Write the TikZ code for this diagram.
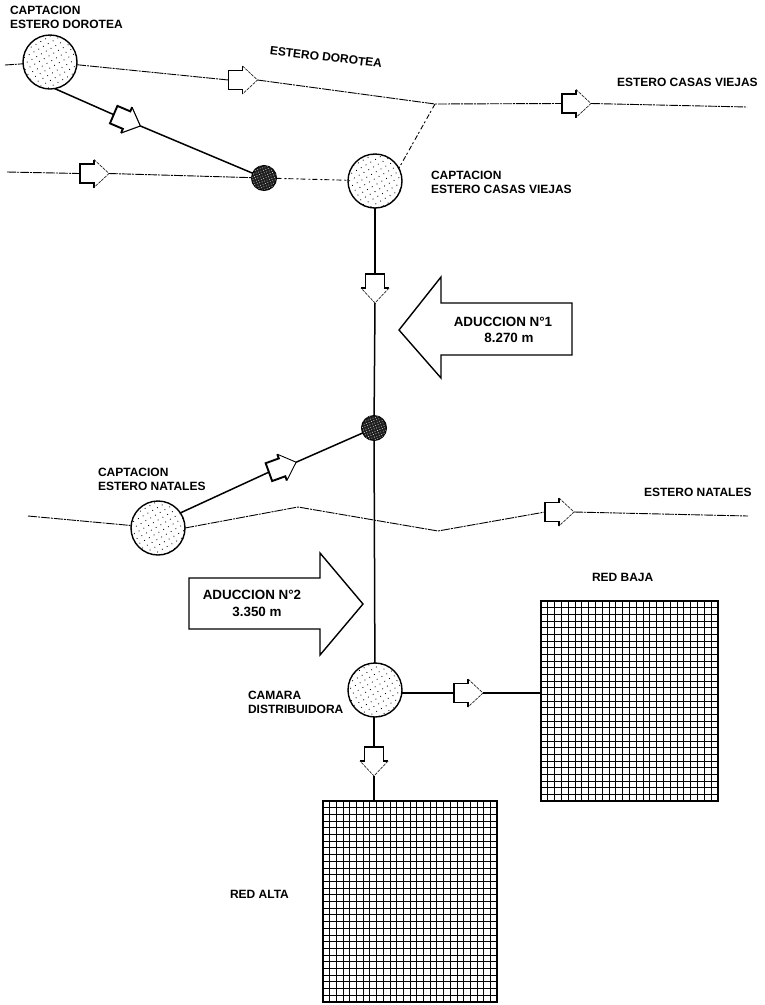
\documentclass[tikz,border=0pt]{standalone}
\usepackage{fontspec}
\setmainfont{Liberation Sans}
\usetikzlibrary{patterns.meta}
\tikzset{
  x=1pt,y=-1pt,
  capt/.style={circle,draw,line width=1.4pt,minimum size=54pt,inner sep=0pt,outer sep=0pt,fill=white,
    postaction={pattern={Dots[distance=5.5pt,radius=0.6pt,angle=30]},pattern color=black}},
  darknode/.style={circle,draw,line width=1pt,minimum size=25pt,inner sep=0pt,outer sep=0pt,fill=black!88,
    postaction={pattern={Dots[distance=2.6pt,radius=0.45pt,angle=20]},pattern color=white}},
  stream/.style={line width=0.9pt,black,dash pattern=on 9pt off 1pt on 2pt off 1pt},
  sidestream/.style={line width=0.9pt,black,dash pattern=on 5pt off 3pt on 2pt off 2pt},
  pipe/.style={line width=1.5pt},
  lbl/.style={inner sep=0pt,outer sep=0pt,font=\bfseries\fontsize{12}{13.8}\selectfont,anchor=west,align=left},
  biglbl/.style={inner sep=0pt,outer sep=0pt,font=\bfseries\fontsize{13.4}{16.5}\selectfont,align=center},
  bigarrow/.style={line width=1.4pt,line join=miter},
  flowhead/.style={line width=0.7pt,black!85,dash pattern=on 3pt off 1pt},
  flowarrow/.pic={
    \coordinate (t) at (-15,0);
    \coordinate (h) at (14,0);
    \draw[line width=1.9pt,line join=miter] (-1,-14) -- (-1,-9.5) -- (-15,-9.5) -- (-15,9.5) -- (-1,9.5) -- (-1,14);
    \draw[flowhead] (-1,-14) -- (14,0) -- (-1,14);
  },
  neth/.style={line width=0.95pt},
  netbox/.style={draw,line width=1.6pt,inner sep=0pt,outer sep=0pt}
}
\begin{document}
\begin{tikzpicture}
\useasboundingbox (0,0) rectangle (765,1005);

% grids
\node[netbox,minimum width=177pt,minimum height=200pt,anchor=north west] (baja) at (541,601) {};
\node[netbox,minimum width=174pt,minimum height=201pt,anchor=north west] (alta) at (323,801) {};
\foreach \i in {1,...,25} {
  \draw[neth] (541+\i*6.8,601) -- (541+\i*6.8,801);
  \draw[neth] (323+\i*6.7,801) -- (323+\i*6.7,1002);
}
\foreach \i in {1,...,29} {
  \draw[neth] (541,601+\i*6.67) -- (718,601+\i*6.67);
  \draw[neth] (323,801+\i*6.7) -- (497,801+\i*6.7);
}

% nodes
\node[capt] (dor) at (50,62) {};
\node[capt] (cv) at (375,181) {};
\node[capt] (nat) at (158,528) {};
\node[capt] (cam) at (375,690) {};
\node[darknode] (d1) at (264,178) {};
\node[darknode] (d2) at (374,428) {};

% free ends and bends
\coordinate (dorin) at (5,65);
\coordinate (J) at (435,104);
\coordinate (cvout) at (747,107);
\coordinate (lowin) at (7,172);
\coordinate (natin) at (28,516);
\coordinate (k1) at (298,507);
\coordinate (k2) at (438,531);
\coordinate (natout) at (748,516);

% flow arrows
\pic (a1) at (243.5,80) {flowarrow};
\pic[rotate=-23,flowhead/.style={line width=1.1pt}] (a2) at (127.5,120.5) {flowarrow};
\pic (a3) at (95,173.5) {flowarrow};
\pic (a4) at (577,103.5) {flowarrow};
\pic[rotate=-90] (a5) at (375,289) {flowarrow};
\pic[rotate=20,flowhead/.style={line width=0.9pt}] (a6) at (283,467) {flowarrow};
\pic (a7) at (560,512) {flowarrow};
\pic (a8) at (469,693) {flowarrow};
\pic[rotate=-90] (a9) at (374,762) {flowarrow};

% streams
\draw[stream] (dorin) -- (dor);
\draw[stream] (dor) -- (a1t);
\draw[stream] (a1h) -- (J) -- (a4t);
\draw[stream] (a4h) -- (cvout);
\draw[sidestream] (J) -- (cv.28);
\draw[stream] (lowin) -- (a3t);
\draw[stream] (a3h) -- (d1);
\draw[sidestream] (d1) -- (cv);
\draw[stream] (natin) -- (nat);
\draw[stream] (nat.east) -- (k1) -- (k2) -- (a7t);
\draw[stream] (a7h) -- (natout);

% pipes
\draw[pipe] (dor.-80) -- (a2t);
\draw[pipe] (a2h) -- (d1);
\draw[pipe] (cv) -- (a5t);
\draw[pipe] (a5h) -- (d2);
\draw[pipe] (d2) -- (cam);
\draw[pipe] (nat.34) -- (a6t);
\draw[pipe] (a6h) -- (d2);
\draw[pipe] (a8t -| cam.east) -- (a8t);
\draw[pipe] (a8h) -- (a8h -| baja.west);
\draw[pipe] (a9t |- cam.south) -- (a9t);
\draw[pipe] (a9h) -- (a9h |- alta.north);

% big arrows
\draw[bigarrow] (572,303) -- (441,303) -- (441,277) -- (399,330) -- (441,378) -- (441,355) -- (572,355) -- cycle;
\draw[bigarrow] (189,578) -- (320,578) -- (320,553) -- (363,604) -- (320,655) -- (320,629) -- (189,629) -- cycle;

% labels
\node[lbl] (l1) at (10,17) {CAPTACION\\ESTERO DOROTEA};
\node[lbl,rotate=-7,anchor=center] (l2) at (326,57) {ESTERO DOROTEA};
\node[lbl] (l3) at (617,82) {ESTERO CASAS VIEJAS};
\node[lbl] (l4) at (431,182) {CAPTACION\\ESTERO CASAS VIEJAS};
\node[biglbl] (l5) at (503,330) {ADUCCION N°1\\\hspace*{12pt}8.270 m};
\node[lbl] (l6) at (98,479.5) {CAPTACION\\ESTERO NATALES};
\node[lbl] (l7) at (644,492) {ESTERO NATALES};
\node[biglbl] (l8) at (252,603.5) {ADUCCION N°2\\\hspace*{10pt}3.350 m};
\node[lbl] (l9) at (248,702) {CAMARA\\DISTRIBUIDORA};
\node[lbl] (l10) at (592,577) {RED BAJA};
\node[lbl] (l11) at (230,894) {RED ALTA};
\end{tikzpicture}
\end{document}
